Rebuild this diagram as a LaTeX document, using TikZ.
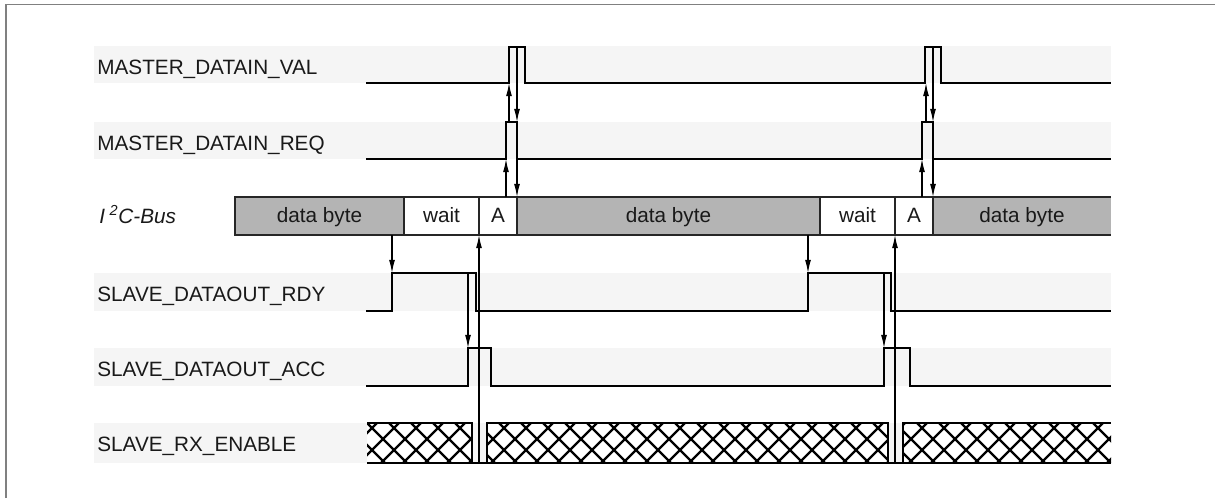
\documentclass[tikz,border=0pt]{standalone}
\usepackage{fontspec}
\setmainfont{Liberation Sans}
\usetikzlibrary{arrows.meta}
\definecolor{bandgray}{HTML}{F5F5F5}
\definecolor{busgray}{HTML}{B4B4B4}
\definecolor{framegray}{HTML}{808080}
\begin{document}
\begin{tikzpicture}[x=0.02cm,y=-0.02cm,
  lbl/.style={anchor=base west,inner sep=0pt,font=\fontsize{11.8}{14}\selectfont,text=black!90},
  segtxt/.style={anchor=base,inner sep=0pt,font=\fontsize{11.8}{14}\selectfont,text=black!90},
  sig/.style={line width=1.4pt,line join=miter,line cap=butt},
  cause/.style={line width=0.6pt,-{Latex[length=7.5pt,width=3.4pt]}},
  seg/.style={draw=black!85,line width=0.6pt},
  hatchline/.style={line width=1.3pt},
  bandrow/.style={fill=bandgray}
]
\useasboundingbox (0,0) rectangle (1215,498);
% frame
\draw[framegray,line width=0.6pt] (6,498) -- (6,4.5) -- (1215,4.5);

% background bands
\fill[bandrow] (94,46) rectangle (1111,83);
\fill[bandrow] (94,122) rectangle (1111,159);
\fill[bandrow] (94,273) rectangle (1111,311);
\fill[bandrow] (94,348) rectangle (1111,386);
\fill[bandrow] (94,423) rectangle (1111,463);

% labels
\node[lbl] (lval) at (97,74) {MASTER\_DATAIN\_VAL};
\node[lbl] (lreq) at (97,150) {MASTER\_DATAIN\_REQ};
\node[lbl] (lbus) at (99,223) {\itshape I\kern2.5pt\textsuperscript{2}C-Bus};
\node[lbl] (lrdy) at (97,301) {SLAVE\_DATAOUT\_RDY};
\node[lbl] (lacc) at (97,376) {SLAVE\_DATAOUT\_ACC};
\node[lbl] (lrx) at (97,451) {SLAVE\_RX\_ENABLE};

% I2C bus segments
\fill[busgray] (235,197) rectangle (404,235);
\fill[busgray] (517,197) rectangle (820,235);
\fill[busgray] (933,197) rectangle (1111,235);
\draw[seg] (235,197) rectangle (404,235);
\draw[seg] (404,197) rectangle (479,235);
\draw[seg] (479,197) rectangle (517,235);
\draw[seg] (517,197) rectangle (820,235);
\draw[seg] (820,197) rectangle (895,235);
\draw[seg] (895,197) rectangle (933,235);
\draw[seg] (933,197) -- (1111,197);
\draw[seg] (933,235) -- (1111,235);
\node[segtxt] (d1) at (319.5,222) {data byte};
\node[segtxt] (w1) at (441.5,222) {wait};
\node[segtxt] (a1) at (498,222) {A};
\node[segtxt] (d2) at (668.5,222) {data byte};
\node[segtxt] (w2) at (857.5,222) {wait};
\node[segtxt] (a2) at (914,222) {A};
\node[segtxt] (d3) at (1022,222) {data byte};

% signals
\draw[sig] (366,83) -- (509,83) -- (509,47) -- (525,47) -- (525,83) -- (925,83) -- (925,47) -- (941,47) -- (941,83) -- (1111,83);
\draw[sig] (366,159) -- (506,159) -- (506,122) -- (517,122) -- (517,159) -- (922,159) -- (922,122) -- (933,122) -- (933,159) -- (1111,159);
\draw[sig] (366,311) -- (392,311) -- (392,273) -- (476,273) -- (476,311) -- (808,311) -- (808,273) -- (891,273) -- (891,311) -- (1111,311);
\draw[sig] (366,386) -- (468,386) -- (468,348) -- (491,348) -- (491,386) -- (884,386) -- (884,348) -- (910,348) -- (910,386) -- (1111,386);

% RX enable (hatched)
\fill[white] (367,423) rectangle (472,463) (487,423) rectangle (888,463) (903,423) rectangle (1111,463);
\begin{scope}
\clip (367,423) rectangle (472,463) (487,423) rectangle (888,463) (903,423) rectangle (1111,463);
\foreach \k in {-33,...,8} {
  \draw[hatchline] ({1005+22*\k},423) -- ({1045+22*\k},463);
  \draw[hatchline] ({1015+22*\k},423) -- ({975+22*\k},463);
}
\end{scope}
\draw[sig] (367,423) -- (472,423) -- (472,463) -- (487,463) -- (487,423) -- (888,423) -- (888,463) -- (903,463) -- (903,423) -- (1111,423);
\draw[sig] (367,463) -- (1111,463);

% cause-effect connectors (first transfer)
\coordinate (b1top) at (506,197);   \coordinate (r1low) at (506,159);
\coordinate (r1top) at (509,122);   \coordinate (v1low) at (509,83);
\coordinate (v1top) at (517,47);    \coordinate (r1fall) at (517,122);
\coordinate (r1bot) at (517,159);   \coordinate (a1end) at (517,197);
\coordinate (d1bot) at (392,235);   \coordinate (rdy1hi) at (392,273);
\coordinate (rdy1h) at (468,273);   \coordinate (acc1hi) at (468,348);
\coordinate (rx1gap) at (479,463);  \coordinate (a1bot) at (479,235);
\draw[cause] (b1top) -- (r1low);
\draw[cause] (r1top) -- (v1low);
\draw[cause] (v1top) -- (r1fall);
\draw[cause] (r1bot) -- (a1end);
\draw[cause] (d1bot) -- (rdy1hi);
\draw[cause] (rdy1h) -- (acc1hi);
\draw[cause] (rx1gap) -- (a1bot);

% cause-effect connectors (second transfer)
\coordinate (b2top) at (922,197);   \coordinate (r2low) at (922,159);
\coordinate (r2top) at (926,122);   \coordinate (v2low) at (926,83);
\coordinate (v2top) at (933,47);    \coordinate (r2fall) at (933,122);
\coordinate (r2bot) at (933,159);   \coordinate (a2end) at (933,197);
\coordinate (d2bot) at (808,235);   \coordinate (rdy2hi) at (808,273);
\coordinate (rdy2h) at (884,273);   \coordinate (acc2hi) at (884,348);
\coordinate (rx2gap) at (895,463);  \coordinate (a2bot) at (895,235);
\draw[cause] (b2top) -- (r2low);
\draw[cause] (r2top) -- (v2low);
\draw[cause] (v2top) -- (r2fall);
\draw[cause] (r2bot) -- (a2end);
\draw[cause] (d2bot) -- (rdy2hi);
\draw[cause] (rdy2h) -- (acc2hi);
\draw[cause] (rx2gap) -- (a2bot);
\end{tikzpicture}
\end{document}
